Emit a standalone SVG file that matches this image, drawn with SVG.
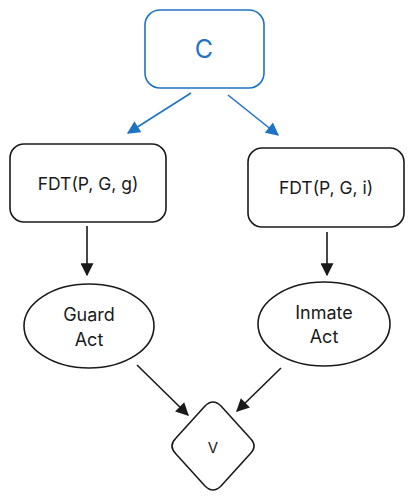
<svg xmlns="http://www.w3.org/2000/svg" width="414" height="504" viewBox="0 0 414 504">
<style>
.n{fill:#fff;stroke:#1a1a1a;stroke-width:1.6}
.t{font-family:Inter,"Noto Sans",sans-serif;fill:#1a1a1a;text-anchor:middle;dominant-baseline:central}
.e{stroke:#1a1a1a;stroke-width:1.6;fill:none}
.b{stroke:#1f73c4;stroke-width:1.6;fill:none}
</style>
<defs>
<marker id="ak" viewBox="0 0 10 10" refX="9" refY="5" markerWidth="14" markerHeight="13" markerUnits="userSpaceOnUse" orient="auto"><path d="M0,0L10,5L0,10Z" fill="#1a1a1a"/></marker>
<marker id="ab" viewBox="0 0 10 10" refX="9" refY="5" markerWidth="14" markerHeight="13" markerUnits="userSpaceOnUse" orient="auto"><path d="M0,0L10,5L0,10Z" fill="#1f73c4"/></marker>
</defs>
<g id="connectors">
<line class="b" x1="191" y1="93" x2="128" y2="133" marker-end="url(#ab)"/>
<line class="b" x1="228" y1="95" x2="278" y2="135" marker-end="url(#ab)"/>
<line class="e" x1="87" y1="226" x2="87" y2="275" marker-end="url(#ak)"/>
<line class="e" x1="327" y1="232" x2="327" y2="275" marker-end="url(#ak)"/>
<line class="e" x1="137" y1="365" x2="188" y2="415" marker-end="url(#ak)"/>
<line class="e" x1="281" y1="368" x2="237" y2="411" marker-end="url(#ak)"/>
</g>
<g id="C">
<rect x="145" y="10" width="119" height="78" rx="15" fill="#fff" stroke="#1f73c4" stroke-width="1.6"/>
<text class="t" x="204" y="49" font-size="25" style="fill:#1f73c4">C</text>
</g>
<g id="FDTg">
<rect class="n" x="10" y="144" width="156" height="78" rx="14"/>
<text class="t" x="88" y="183" font-size="17.5">FDT(P, G, g)</text>
</g>
<g id="FDTi">
<rect class="n" x="248" y="148" width="156" height="79" rx="14"/>
<text class="t" x="326" y="187" font-size="17.5">FDT(P, G, i)</text>
</g>
<g id="Guard">
<ellipse class="n" cx="89" cy="326" rx="65" ry="42"/>
<text class="t" x="89" y="314" font-size="18">Guard</text>
<text class="t" x="89" y="339" font-size="18">Act</text>
</g>
<g id="Inmate">
<ellipse class="n" cx="324" cy="324" rx="66" ry="42"/>
<text class="t" x="324" y="312" font-size="18">Inmate</text>
<text class="t" x="324" y="336" font-size="18">Act</text>
</g>
<g id="V">
<path class="n" d="M205,406Q213,398 221,406L250,438Q258,446 250,454L221,486Q213,494 205,486L176,454Q168,446 176,438Z"/>
<text class="t" x="213" y="447" font-size="15">V</text>
</g>
</svg>
